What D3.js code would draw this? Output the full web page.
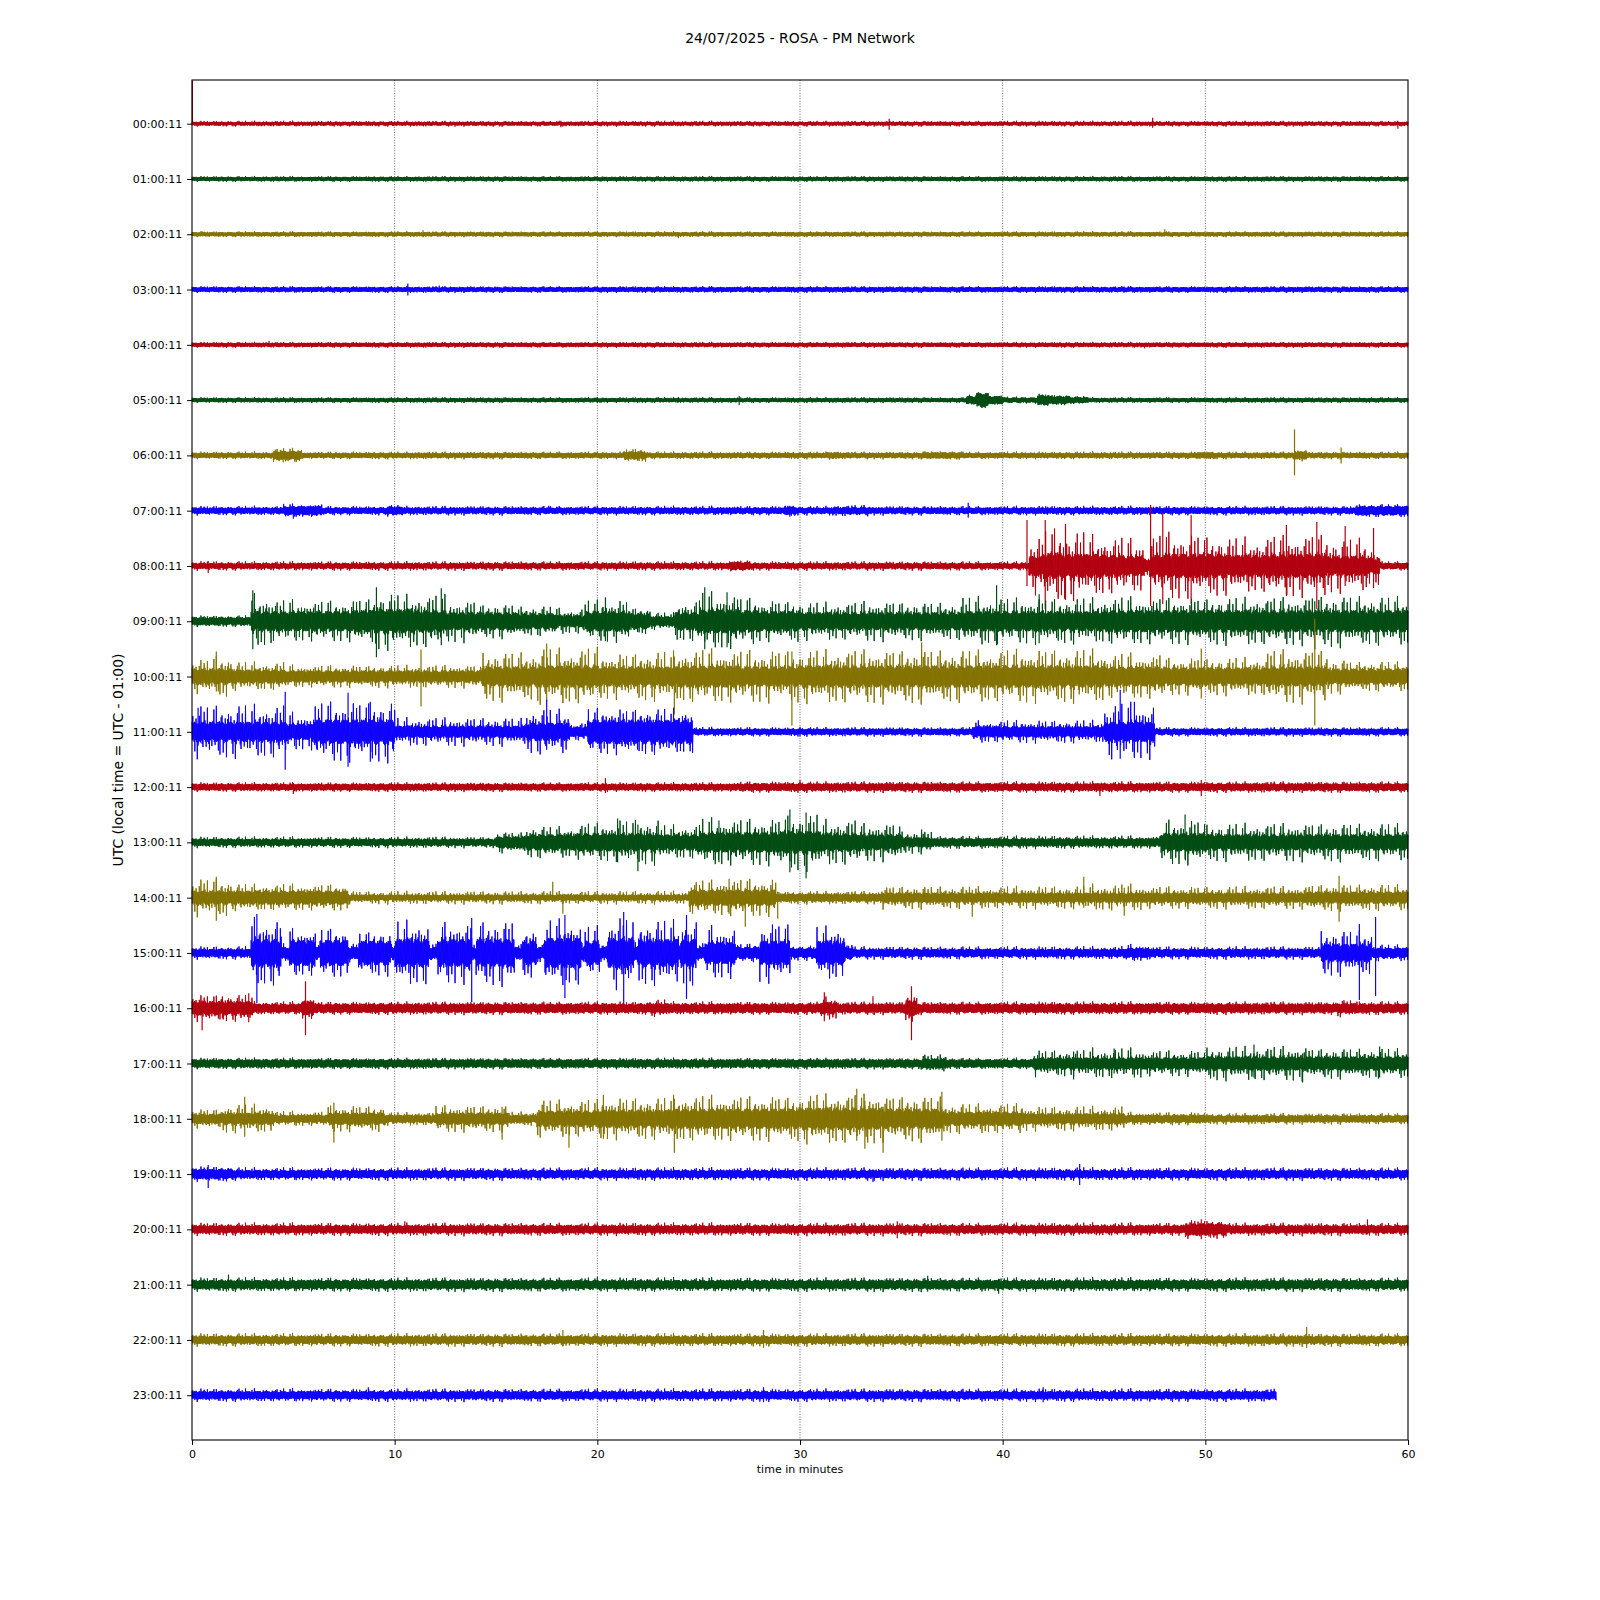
<!DOCTYPE html>
<html><head><meta charset="utf-8">
<script src="https://cdn.jsdelivr.net/npm/d3@7"></script>
<style>body{margin:0;background:#fff}svg{display:block}text{font-family:"DejaVu Sans",sans-serif;fill:#000}</style>
</head><body>
<svg id="c" width="1600" height="1600"></svg>
<script>
const TITLE = "24/07/2025 - ROSA - PM Network";
const Y_LABEL = "UTC (local time = UTC - 01:00)";
const X_LABEL = "time in minutes";
const ROW_LABELS = ["00:00:11","01:00:11","02:00:11","03:00:11","04:00:11","05:00:11","06:00:11","07:00:11",
  "08:00:11","09:00:11","10:00:11","11:00:11","12:00:11","13:00:11","14:00:11","15:00:11",
  "16:00:11","17:00:11","18:00:11","19:00:11","20:00:11","21:00:11","22:00:11","23:00:11"];
const X_TICKS = [0,10,20,30,40,50,60];
const TRACE_COLORS = ["#B2000F","#004C12","#847200","#0E01FF"];
const ROW_SPAN = 55.3; // amplitude units between two hour lines

// envelope per hour: [startMin, endMin, typical half-amplitude, peak half-amplitude]
const envelope = [
/*00*/[[0,60,1.8,3]],
/*01*/[[0,60,2,3]],
/*02*/[[0,60,2,3]],
/*03*/[[0,60,2.3,3.5]],
/*04*/[[0,60,2,3]],
/*05*/[[0,38.2,2,3],[38.2,38.7,4,6],[38.7,39.3,7,8.5],[39.3,40,4,5.5],[40,41.7,2.5,3.5],[41.7,42.3,5,6.5],[42.3,43.3,4,5.5],[43.3,44.2,3,4],[44.2,60,2,3]],
/*06*/[[0,4,2.5,4],[4,5.4,4.5,7.5],[5.4,21.3,2.5,4],[21.3,22.4,4,7],[22.4,31.3,2.5,4],[31.3,32,3,4.5],[32,36,2.5,4],[36,38,3,4.5],[38,49.5,2.5,4],[49.5,50.5,3,4.5],[50.5,54.4,2.5,4],[54.4,55,4,6],[55,60,2.5,4]],
/*07*/[[0,4.5,3,5],[4.5,6.4,4.5,7],[6.4,9.6,3,5],[9.6,10.4,4,6],[10.4,29.2,3,5],[29.2,29.8,4,6],[29.8,31.6,3,5],[31.6,33.4,3.5,6],[33.4,57.4,3,5],[57.4,60,4.5,7]],
/*08*/[[0,26.5,2.8,5],[26.5,27.5,4,6],[27.5,41.3,2.8,5],[41.3,42,10,30],[42,43,13,40],[43,44,12,36],[44,45,12,32],[45,46,11,30],[46,47,10,28],[47,47.3,6,12],[47.3,48,11,34],[48,49,12,36],[49,50,12,34],[50,51,12,32],[51,52,11,30],[52,53,11,28],[53,54,12,32],[54,55,12,32],[55,56,12,34],[56,57,10,28],[57,58,10,30],[58,58.6,8,20],[58.6,60,3,5]],
/*09*/[[0,2.9,4,6],[2.9,4,10,28],[4,6,10,22],[6,8,10,22],[8,9,11,25],[9,10,12,30],[10,11,12,28],[11,12.5,11,28],[12.5,14,9,22],[14,16,9,18],[16,18,8,16],[18,19.4,6,14],[19.4,21.6,10,22],[21.6,22.6,8,14],[22.6,23.8,5,9],[23.8,25,9,22],[25,27,12,30],[27,28,11,25],[28,30,10,22],[30,33,9,20],[33,35,9,21],[35,38,9,20],[38,40,10,26],[40,42,10,24],[42,45,10,24],[45,50,11,25],[50,55,11,25],[55,58,11,27],[58,60,11,26]],
/*10*/[[0,1,8,18],[1,2,8,22],[2,4.6,7,15],[4.6,14.3,6,12],[14.3,17,10,26],[17,20,11,30],[20,22,10,24],[22,24,10,26],[24,27,11,28],[27,30,10,28],[30,34,11,28],[34,40,11,28],[40,45,11,28],[45,48,10,24],[48,53,9,20],[53,56,10,28],[56,57,8,18],[57,60,8,16]],
/*11*/[[0,4.7,10,28],[4.7,6,8,20],[6,10,12,32],[10,16.5,6,15],[16.5,18.6,9,24],[18.6,19.5,5,10],[19.5,24.7,12,24],[24.7,38.5,3,5],[38.5,45,5.5,12],[45,47.5,10,30],[47.5,60,3,5]],
/*12*/[[0,27,3.2,5],[27,60,3.6,6]],
/*13*/[[0,15,3.5,6],[15,16.5,6,11],[16.5,19,8,17],[19,21,9,20],[21,23,9,24],[23,25,8,18],[25,27,10,25],[27,29,10,25],[29,31,11,30],[31,33,9,24],[33,35,8,20],[35,36.5,5,12],[36.5,47.8,4,7],[47.8,50,9,24],[50,55,8,20],[55,60,8,20]],
/*14*/[[0,2,7,20],[2,7.7,7,14],[7.7,24.5,3,7],[24.5,26,8,18],[26,28.8,8,20],[28.8,34,4,7],[34,44,5,12],[44,47,5,14],[47,55,5,12],[55,60,6,14]],
/*15*/[[0,2.9,4,7],[2.9,4.4,14,36],[4.4,4.8,6,10],[4.8,6.1,13,25],[6.1,6.3,6,10],[6.3,7.7,13,26],[7.7,8.2,6,10],[8.2,9.8,12,24],[9.8,10,6,10],[10,11.7,14,34],[11.7,12.1,6,10],[12.1,13.8,14,32],[13.8,14,6,10],[14,15.9,14,34],[15.9,16.3,6,10],[16.3,17,12,28],[17,17.4,6,10],[17.4,19.2,15,36],[19.2,19.4,7,12],[19.4,20.1,12,28],[20.1,20.5,6,10],[20.5,21.8,15,38],[21.8,22,7,12],[22,24,14,34],[24,24.1,7,12],[24.1,24.9,14,36],[24.9,25.3,6,10],[25.3,26.8,11,28],[26.8,28,6,10],[28,29.5,12,32],[29.5,30.8,5,8],[30.8,32.2,12,28],[32.2,32.6,6,9],[32.6,46,4,7],[46,47.2,5,9],[47.2,55.7,4,7],[55.7,58.2,9,24],[58.2,60,5,9]],
/*16*/[[0,3,7,14],[3,5.4,4.5,7],[5.4,6,7,12],[6,22.5,4.5,7],[22.5,23.5,5,9],[23.5,31,4.5,7],[31,31.8,6,12],[31.8,35.2,4.5,7],[35.2,35.8,8,14],[35.8,56.5,4.5,7],[56.5,57.5,5,9],[57.5,60,4.5,7.5]],
/*17*/[[0,36,4,6],[36,37.2,5,10],[37.2,41.5,4,6],[41.5,44,6,14],[44,47,6,16],[47,50,6,14],[50,55,7,18],[55,60,7,16]],
/*18*/[[0,1.5,5,10],[1.5,4,6,15],[4,6.7,4,8],[6.7,9.5,6,14],[9.5,12,4,7],[12,15.6,6,14],[15.6,17,4,8],[17,20,8,20],[20,23.5,9,22],[23.5,27,10,24],[27,30,10,24],[30,34,11,26],[34,37,10,24],[37,41,7,16],[41,46,5.5,13],[46,50,4,7],[50,60,3.5,6]],
/*19*/[[0,2,5,8],[2,60,4,7]],
/*20*/[[0,49,4,7],[49,51,6,10],[51,60,4,7]],
/*21*/[[0,60,4.5,7.5]],
/*22*/[[0,60,4,7]],
/*23*/[[0,53.5,4,7]]
];

// isolated large excursions per hour: [minute, up, down]
const spikes = [
/*00*/[[0.02,43,0],[18.2,3,3.5],[34.4,5,6],[47.4,6,4],[59.5,2,5]],
/*01*/[],
/*02*/[[0.5,3,2],[11.4,4,3],[24,1,4],[48,5,2]],
/*03*/[[10.65,6,6],[12.2,4,3],[46,3,3]],
/*04*/[[3.8,4,2],[47,2,3.5]],
/*05*/[[3.3,2.5,2],[20,3,3],[24,3,2.5],[27,4,5]],
/*06*/[[4.5,3,7],[54.4,26,20],[56.7,8,8]],
/*07*/[[5,2,8],[17.6,5,2],[29.5,5,6],[38.3,8,7],[42.2,4,4]],
/*08*/[[0.8,5,7],[41.2,46,20],[42.1,46,43],[43.1,42,34],[47.3,61,40],[47.9,53,38],[49.3,51,38],[54,41,30],[55.5,44,43],[56.9,40,20],[58.3,38,22]],
/*09*/[[3,31,28],[9.1,34,36],[12.3,33,24],[20.4,24,20],[25.3,34,28],[26.4,29,26],[39.7,36,24],[41.8,27,22],[55.4,20,28]],
/*10*/[[1.2,25,15],[11.3,27,30],[17.5,33,25],[23.8,20,38],[29.6,25,49],[36,34,20],[49.8,28,22],[55.4,58,49]],
/*11*/[[0.3,24,14],[4.6,40,38],[7.7,39,35],[8.8,30,30],[17.5,32,18],[30,5,5],[45.8,42,27],[46.5,30,25]],
/*12*/[[5,4,7],[20.4,9,6],[30,7,4],[44.8,4,9],[49.8,7,9]],
/*13*/[[21,24,20],[22,18,29],[26,22,20],[29.5,33,30],[30.3,30,36],[36,13,8],[49,28,17]],
/*14*/[[1.2,21,23],[17.8,16,4],[18.3,4,16],[26.5,19,16],[27.3,10,29],[28.9,6,21],[38.5,8,19],[44,21,10],[46,10,18],[56.6,22,24]],
/*15*/[[3.2,39,50],[13.8,35,49],[18.4,38,45],[21.3,41,50],[24.4,38,46],[57.6,29,47],[58.4,36,43]],
/*16*/[[0.5,8,22],[1.5,12,10],[2.8,15,14],[5.6,27,27],[31.2,16,13],[33.6,12,6],[35.5,22,32]],
/*17*/[[43.5,12,16],[45.5,15,10],[52.4,19,14],[54.8,10,19],[58.6,17,14]],
/*18*/[[2.6,22,18],[7,16,24],[15.3,12,21],[18.6,10,29],[20.3,24,20],[23.8,20,34],[32.8,30,22],[33.2,18,30],[34.1,12,34],[37,27,22]],
/*19*/[[0.8,9,14],[33.6,4,8],[43.8,10,11]],
/*20*/[[10.5,8,4],[34.8,8,9],[49.8,10,10],[58,10,5]],
/*21*/[[1.8,10,6],[36.3,9,7],[39.8,6,9]],
/*22*/[[18.3,10,6],[28.2,10,8],[55,13,8]],
/*23*/[[8.7,8,5],[28.2,8,7],[42,8,7]]
];

// ---------------- rendering ----------------
const DT = 0.02; // minutes per drawn sample
const CORE_TEX = [1,0.85,0.95,0.75,0.9,0.8,1,0.7,0.92,0.82,0.97];
const PEAK_TEX = [0,0,0.35,0,0,0.1,0,0.7,0,0,0.2,0,0,1,0,0.15,0,0,0.5,0,0,0.05,0.85,0,0,0.25,0,0.4,0,0,0.6,0,0.1,0,0,0.3,0,0,0.9,0,0,0.15,0,0.45,0,0,0];

const svg = d3.select("#c");
const L = 192, R = 1408, T = 80, B = 1440;
const x = d3.scaleLinear().domain([0,60]).range([L,R]);
const y = d3.scaleLinear().domain([-0.79,23.81]).range([T,B]);

// grid
svg.append("g").selectAll("line").data(X_TICKS.filter(d=>d>0&&d<60)).join("line")
  .attr("x1",d=>x(d)).attr("x2",d=>x(d)).attr("y1",T).attr("y2",B)
  .attr("stroke","#000").attr("stroke-width",0.6).attr("stroke-dasharray","1,1.6");

const line = d3.line();
const traces = svg.append("g");
envelope.forEach((segs,r)=>{
  const end = segs[segs.length-1][1];
  const n = Math.round(end/DT);
  const pts = [];
  let si = 0;
  for(let i=0;i<=n;i++){
    const t = Math.min(i*DT,end);
    while(si<segs.length-1 && t>segs[si][1]) si++;
    const s = segs[si];
    const a = s[2]*CORE_TEX[i%CORE_TEX.length] + (s[3]-s[2])*PEAK_TEX[i%PEAK_TEX.length];
    const sign = (i%2===0)?1:-1;
    pts.push([x(t), y(r - sign*a/ROW_SPAN)]);
  }
  const col = TRACE_COLORS[r%4];
  traces.append("path").attr("d",line(pts)).attr("fill","none")
    .attr("stroke",col).attr("stroke-width",1).attr("stroke-linejoin","bevel");
  traces.append("g").selectAll("line").data(spikes[r]).join("line")
    .attr("x1",d=>x(d[0])).attr("x2",d=>x(d[0]))
    .attr("y1",d=>y(r - d[1]/ROW_SPAN)).attr("y2",d=>y(r + d[2]/ROW_SPAN))
    .attr("stroke",col).attr("stroke-width",1.2);
});

// axes
const yAxis = d3.axisLeft(y).tickValues(d3.range(24)).tickFormat(i=>ROW_LABELS[i]).tickSize(4.9).tickPadding(4.9);
const gy = svg.append("g").attr("transform",`translate(${L},0)`).call(yAxis);
gy.select(".domain").remove();
gy.selectAll("text").style("font-size","11px").style("font-family","DejaVu Sans");
gy.selectAll("line").attr("stroke","#000").attr("stroke-width",1);

const xAxis = d3.axisBottom(x).tickValues(X_TICKS).tickFormat(d3.format("d")).tickSize(4.9).tickPadding(4.9);
const gx = svg.append("g").attr("transform",`translate(0,${B})`).call(xAxis);
gx.select(".domain").remove();
gx.selectAll("text").style("font-size","11px").style("font-family","DejaVu Sans");
gx.selectAll("line").attr("stroke","#000").attr("stroke-width",1);

svg.append("rect").attr("x",L).attr("y",T).attr("width",R-L).attr("height",B-T)
  .attr("fill","none").attr("stroke","#000").attr("stroke-width",1.1);

svg.append("text").attr("x",(L+R)/2).attr("y",43).attr("text-anchor","middle")
  .style("font-size","13.9px").text(TITLE);
svg.append("text").attr("x",(L+R)/2).attr("y",1473).attr("text-anchor","middle")
  .style("font-size","11px").text(X_LABEL);
svg.append("text").attr("transform",`translate(123,${(T+B)/2}) rotate(-90)`).attr("text-anchor","middle")
  .style("font-size","13.9px").text(Y_LABEL);
</script>
</body></html>
